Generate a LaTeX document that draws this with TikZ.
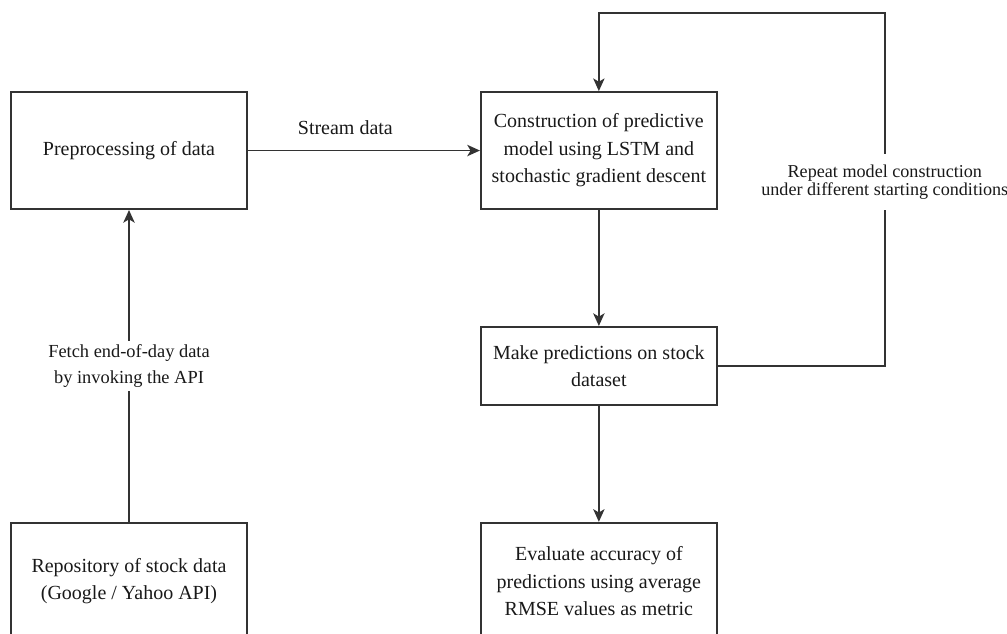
\documentclass[tikz,border=0pt]{standalone}
\usepackage{fontspec}
\setmainfont{Liberation Serif}
\usetikzlibrary{arrows.meta}
\usetikzlibrary{positioning}

\begin{document}
\begin{tikzpicture}
  [
    node distance = 87pt and 174pt,
    box/.style = {draw = black!80, line width = 1.4pt, rectangle, text = black!90,
                  minimum width = 177pt, minimum height = 87.75pt, align = center,
                  font = \fontsize{15pt}{20.6pt}\selectfont},
    shortbox/.style = {box, minimum height = 58.5pt},
    lbl/.style = {fill = white, align = center, text = black!90, inner xsep = 2pt},
    arrow/.style = {> = {Stealth[length = 9.5pt, width = 8.5pt, inset = 2.5pt]},
                    draw = black!80, line width = 1.4pt},
  ]
  \useasboundingbox (0,0) rectangle (755.25pt,-474.75pt);

  \node[box] at (96.75pt,-112.9pt) (prep) {Preprocessing of data};
  \node[box] [right = of prep] (cons) {Construction of predictive\\ model using LSTM and\\ stochastic gradient descent}
    edge[arrow, <-] node[above = 7.5pt, pos = 0.58, text = black!90,
                         font = \fontsize{15pt}{18pt}\selectfont] {Stream data} (prep);

  \node[shortbox] [below = of cons] (pred) {Make predictions on stock\\ dataset}
    edge[arrow, <-] (cons);
  \node[box] [below = of pred] (eval) {Evaluate accuracy of\\ predictions using average\\ RMSE values as metric}
    edge[arrow, <-] (pred);

  \node[box] [left = of eval] (repo) {Repository of stock data\\ (Google / Yahoo API)}
    edge[arrow, ->] node[lbl, inner ysep = 3pt, font = \fontsize{13.8pt}{19pt}\selectfont]
      {Fetch end-of-day data\\ by invoking the API} (prep);

  % loop back to the model
  \coordinate [above = 58.5pt of cons.north] (looptop);
  \coordinate [right = 125.25pt of pred.east] (loopcorner);
  \draw[arrow, ->] (pred.east) -- (loopcorner)
    -- node[lbl, pos = 0.52, inner ysep = 8pt, font = \fontsize{13.6pt}{13.6pt}\selectfont]
      {Repeat model construction\\ under different starting conditions} (loopcorner |- looptop)
    -- (looptop) -- (cons.north);

\end{tikzpicture}
\end{document}
